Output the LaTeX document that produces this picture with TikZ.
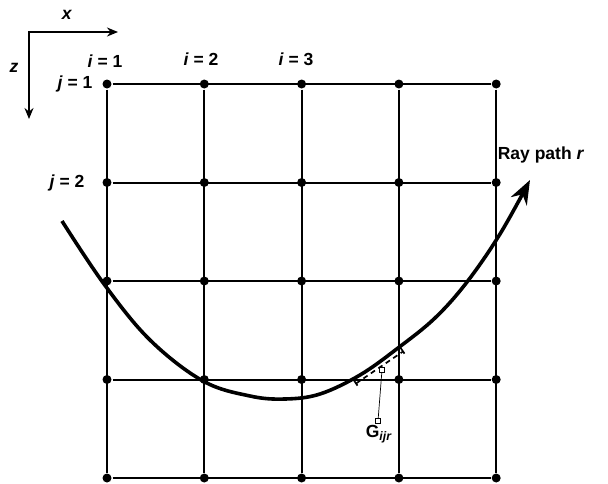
\documentclass[tikz,border=0pt]{standalone}
\usepackage{fontspec}
\setmainfont{Liberation Sans}
\usetikzlibrary{arrows.meta}
\tikzset{
	dotA/.style={fill,circle,inner sep=0pt,minimum size=9pt},
	lblA/.style={font={\fontsize{17.5}{20}\selectfont\bfseries}, inner sep=0pt},
	boxA/.style={draw,fill=white,inner sep=0pt,minimum size=5pt,line width=0.7pt},
	>={Stealth[length=11pt,width=9pt]},
}
\def\dx{97.3}
\def\dy{98.5}

\begin{document}
\begin{tikzpicture}[x=1pt, y=-1pt, line width=2pt]
\useasboundingbox (0,0) rectangle (608,483);
% grid points and lines
\foreach \i in {1,...,5}
\foreach \j in {1,...,5}
\node[dotA] (g-\i-\j) at ({107+(\i-1)*\dx},{84+(\j-1)*\dy}) {};
\foreach \k in {1,...,5} {
	\draw (g-1-\k) -- (g-5-\k);
	\draw (g-\k-1) -- (g-\k-5);
}
% axes
\coordinate (o) at (29,32);
\coordinate (xe) at (118,32);
\coordinate (ze) at (29,119);
\draw[<->] (xe) -- (o) -- (ze);
\node[lblA] (xl) at (67,15) {\textit{x}};
\node[lblA] (zl) at (14,68) {\textit{z}};
% indices
\node[lblA] (i1) at (105,61) {\textit{i} = 1};
\node[lblA] (i2) at (201,59) {\textit{i} = 2};
\node[lblA] (i3) at (296,59) {\textit{i} = 3};
\node[lblA] (j1) at (75,84) {\textit{j} = 1};
\node[lblA] (j2) at (67,183) {\textit{j} = 2};
% ray
\draw[line width=3.6pt, -{Stealth[length=24pt,width=18pt]}] plot[smooth, tension=0.6] coordinates {
(62,221) (104,284) (150,340) (203,381) (250,396) (285,399) (320,394) (360,375)
(398,348) (435,318) (467,282) (500,234) (530,180)};
\node[lblA] (ray) at (541,155) {Ray path \textit{r}};
% segment
\coordinate (sa) at (353,379);
\coordinate (sb) at (400,347);
\draw[line width=1.7pt] (sa) -- ++(4.5,6.6);
\draw[line width=1.7pt] (sb) -- ++(4.5,6.6);
\draw[line width=1.7pt, dash pattern=on 5pt off 4pt] ([shift={(3,4.5)}]sa) -- ([shift={(3,4.5)}]sb);
\node[boxA] (gc) at (382,370) {};
\node[boxA] (gb) at (378,421) {};
\draw[line width=0.7pt] (gc) -- (gb);
\node[lblA] (glbl) at (379,434) {G\textsubscript{\textit{ijr}}};
\end{tikzpicture}
\end{document}
